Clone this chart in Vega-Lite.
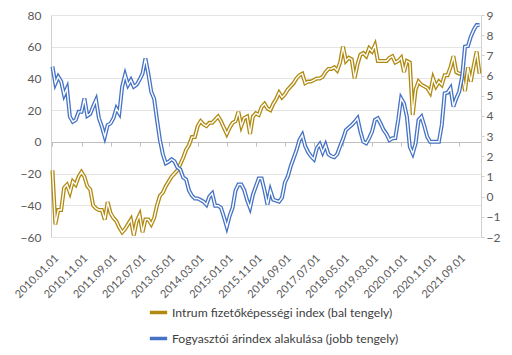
{
  "$schema": "https://vega.github.io/schema/vega-lite/v6.json",
  "width": 430,
  "height": 222,
  "autosize": {"type": "none"},
  "padding": {"left": 51, "top": 15, "right": 31, "bottom": 118},
  "background": "white",
  "config": {
    "view": {"stroke": null},
    "font": "Lato",
    "axis": {"labelFont": "Lato", "labelColor": "#595959", "labelFontSize": 12, "domainColor": "#d0d0d0", "tickColor": "#d0d0d0", "gridColor": "#e4e4e4", "title": null}
  },
  "data": {"values": [
    {"date":"2010.01.01","intrum":-18,"cpi":6.44},{"date":"2010.02.01","intrum":-52,"cpi":5.6},{"date":"2010.03.01","intrum":-43,"cpi":5.94},{"date":"2010.04.01","intrum":-43,"cpi":5.7},{"date":"2010.05.01","intrum":-29,"cpi":5.04},{"date":"2010.06.01","intrum":-27,"cpi":5.37},{"date":"2010.07.01","intrum":-32,"cpi":3.96},{"date":"2010.08.01","intrum":-25,"cpi":3.71},{"date":"2010.09.01","intrum":-27,"cpi":3.8},{"date":"2010.10.01","intrum":-22,"cpi":4.2},{"date":"2010.11.01","intrum":-19,"cpi":4.2},{"date":"2010.12.01","intrum":-22,"cpi":4.87},
    {"date":"2011.01.01","intrum":-28,"cpi":4.0},{"date":"2011.02.01","intrum":-30,"cpi":4.1},{"date":"2011.03.01","intrum":-40,"cpi":4.46},{"date":"2011.04.01","intrum":-42,"cpi":4.79},{"date":"2011.05.01","intrum":-43,"cpi":3.88},{"date":"2011.06.01","intrum":-43,"cpi":3.47},{"date":"2011.07.01","intrum":-49,"cpi":2.97},{"date":"2011.08.01","intrum":-38,"cpi":3.55},{"date":"2011.09.01","intrum":-45,"cpi":3.63},{"date":"2011.10.01","intrum":-48,"cpi":3.88},{"date":"2011.11.01","intrum":-50,"cpi":4.37},{"date":"2011.12.01","intrum":-54,"cpi":4.13},
    {"date":"2012.01.01","intrum":-57,"cpi":5.45},{"date":"2012.02.01","intrum":-55,"cpi":6.03},{"date":"2012.03.01","intrum":-52,"cpi":5.53},{"date":"2012.04.01","intrum":-49,"cpi":5.78},{"date":"2012.05.01","intrum":-59,"cpi":5.45},{"date":"2012.06.01","intrum":-50,"cpi":5.55},{"date":"2012.07.01","intrum":-46,"cpi":5.8},{"date":"2012.08.01","intrum":-57,"cpi":6.1},{"date":"2012.09.01","intrum":-49,"cpi":6.85},{"date":"2012.10.01","intrum":-49,"cpi":6.1},{"date":"2012.11.01","intrum":-52,"cpi":5.2},{"date":"2012.12.01","intrum":-48,"cpi":4.85},
    {"date":"2013.01.01","intrum":-40,"cpi":3.8},{"date":"2013.02.01","intrum":-34,"cpi":2.8},{"date":"2013.03.01","intrum":-32,"cpi":2.1},{"date":"2013.04.01","intrum":-28,"cpi":1.65},{"date":"2013.05.01","intrum":-25,"cpi":1.73},{"date":"2013.06.01","intrum":-22,"cpi":1.85},{"date":"2013.07.01","intrum":-20,"cpi":1.75},{"date":"2013.08.01","intrum":-18,"cpi":1.45},{"date":"2013.09.01","intrum":-14,"cpi":1.35},{"date":"2013.10.01","intrum":-10,"cpi":0.95},{"date":"2013.11.01","intrum":-5,"cpi":0.85},{"date":"2013.12.01","intrum":-2,"cpi":0.3},
    {"date":"2014.01.01","intrum":3,"cpi":0.05},{"date":"2014.02.01","intrum":3,"cpi":-0.09},{"date":"2014.03.01","intrum":10,"cpi":-0.09},{"date":"2014.04.01","intrum":13,"cpi":-0.17},{"date":"2014.05.01","intrum":11,"cpi":-0.25},{"date":"2014.06.01","intrum":10,"cpi":-0.4},{"date":"2014.07.01","intrum":12,"cpi":0.0},{"date":"2014.08.01","intrum":12,"cpi":0.16},{"date":"2014.09.01","intrum":14,"cpi":-0.45},{"date":"2014.10.01","intrum":16,"cpi":-0.45},{"date":"2014.11.01","intrum":13,"cpi":-0.55},{"date":"2014.12.01","intrum":9,"cpi":-1.0},
    {"date":"2015.01.01","intrum":5,"cpi":-1.5},{"date":"2015.02.01","intrum":9,"cpi":-0.95},{"date":"2015.03.01","intrum":12,"cpi":-0.55},{"date":"2015.04.01","intrum":13,"cpi":0.3},{"date":"2015.05.01","intrum":19,"cpi":0.6},{"date":"2015.06.01","intrum":10,"cpi":0.6},{"date":"2015.07.01","intrum":15,"cpi":0.33},{"date":"2015.08.01","intrum":16,"cpi":-0.17},{"date":"2015.09.01","intrum":5,"cpi":-0.55},{"date":"2015.10.01","intrum":16,"cpi":0.1},{"date":"2015.11.01","intrum":18,"cpi":0.5},{"date":"2015.12.01","intrum":17,"cpi":0.9},
    {"date":"2016.01.01","intrum":22,"cpi":0.9},{"date":"2016.02.01","intrum":24,"cpi":0.3},{"date":"2016.03.01","intrum":21,"cpi":-0.4},{"date":"2016.04.01","intrum":20,"cpi":0.3},{"date":"2016.05.01","intrum":24,"cpi":-0.15},{"date":"2016.06.01","intrum":27,"cpi":-0.2},{"date":"2016.07.01","intrum":31,"cpi":-0.25},{"date":"2016.08.01","intrum":28,"cpi":-0.05},{"date":"2016.09.01","intrum":30,"cpi":0.7},{"date":"2016.10.01","intrum":33,"cpi":1.0},{"date":"2016.11.01","intrum":35,"cpi":1.5},{"date":"2016.12.01","intrum":37,"cpi":1.9},
    {"date":"2017.01.01","intrum":40,"cpi":2.3},{"date":"2017.02.01","intrum":42,"cpi":2.8},{"date":"2017.03.01","intrum":43,"cpi":3.05},{"date":"2017.04.01","intrum":37,"cpi":2.5},{"date":"2017.05.01","intrum":38,"cpi":2.2},{"date":"2017.06.01","intrum":38,"cpi":2.0},{"date":"2017.07.01","intrum":39,"cpi":1.85},{"date":"2017.08.01","intrum":40,"cpi":2.4},{"date":"2017.09.01","intrum":40,"cpi":2.6},{"date":"2017.10.01","intrum":41,"cpi":2.2},{"date":"2017.11.01","intrum":44,"cpi":2.56},{"date":"2017.12.01","intrum":46,"cpi":2.1},
    {"date":"2018.01.01","intrum":46,"cpi":2.0},{"date":"2018.02.01","intrum":47,"cpi":1.95},{"date":"2018.03.01","intrum":45,"cpi":2.1},{"date":"2018.04.01","intrum":50,"cpi":2.5},{"date":"2018.05.01","intrum":60,"cpi":2.85},{"date":"2018.06.01","intrum":51,"cpi":3.3},{"date":"2018.07.01","intrum":53,"cpi":3.43},{"date":"2018.08.01","intrum":52,"cpi":3.55},{"date":"2018.09.01","intrum":40,"cpi":3.7},{"date":"2018.10.01","intrum":49,"cpi":3.88},{"date":"2018.11.01","intrum":55,"cpi":3.22},{"date":"2018.12.01","intrum":56,"cpi":2.72},
    {"date":"2019.01.01","intrum":54,"cpi":2.64},{"date":"2019.02.01","intrum":59,"cpi":2.9},{"date":"2019.03.01","intrum":57,"cpi":3.22},{"date":"2019.04.01","intrum":61,"cpi":3.8},{"date":"2019.05.01","intrum":51,"cpi":3.88},{"date":"2019.06.01","intrum":51,"cpi":3.6},{"date":"2019.07.01","intrum":51,"cpi":3.3},{"date":"2019.08.01","intrum":51,"cpi":3.1},{"date":"2019.09.01","intrum":53,"cpi":2.8},{"date":"2019.10.01","intrum":54,"cpi":2.89},{"date":"2019.11.01","intrum":50,"cpi":2.9},{"date":"2019.12.01","intrum":51,"cpi":3.8},
    {"date":"2020.01.01","intrum":53,"cpi":4.87},{"date":"2020.02.01","intrum":44,"cpi":4.62},{"date":"2020.03.01","intrum":51,"cpi":3.96},{"date":"2020.04.01","intrum":50,"cpi":2.47},{"date":"2020.05.01","intrum":17,"cpi":2.14},{"date":"2020.06.01","intrum":33,"cpi":2.64},{"date":"2020.07.01","intrum":38,"cpi":3.8},{"date":"2020.08.01","intrum":36,"cpi":3.96},{"date":"2020.09.01","intrum":35,"cpi":3.5},{"date":"2020.10.01","intrum":34,"cpi":2.97},{"date":"2020.11.01","intrum":31,"cpi":2.72},{"date":"2020.12.01","intrum":40,"cpi":2.72},
    {"date":"2021.01.01","intrum":35,"cpi":2.72},{"date":"2021.02.01","intrum":38,"cpi":2.72},{"date":"2021.03.01","intrum":36,"cpi":3.55},{"date":"2021.04.01","intrum":42,"cpi":5.12},{"date":"2021.05.01","intrum":42,"cpi":5.15},{"date":"2021.06.01","intrum":47,"cpi":5.37},{"date":"2021.07.01","intrum":54,"cpi":4.46},{"date":"2021.08.01","intrum":44,"cpi":4.87},{"date":"2021.09.01","intrum":43,"cpi":5.2},{"date":"2021.10.01","intrum":43,"cpi":5.94},{"date":"2021.11.01","intrum":32,"cpi":7.43},{"date":"2021.12.01","intrum":47,"cpi":7.46},
    {"date":"2022.01.01","intrum":38,"cpi":7.93},{"date":"2022.02.01","intrum":48,"cpi":8.26},{"date":"2022.03.01","intrum":57,"cpi":8.5},{"date":"2022.04.01","intrum":43,"cpi":8.5}
  ]},
  "encoding": {
    "x": {
      "field": "date", "type": "ordinal", "sort": null,
      "scale": {"type": "point", "padding": 0.5},
      "axis": {
        "values": ["2010.01.01","2010.11.01","2011.09.01","2012.07.01","2013.05.01","2014.03.01","2015.01.01","2015.11.01","2016.09.01","2017.07.01","2018.05.01","2019.03.01","2020.01.01","2020.11.01","2021.09.01"],
        "labelAngle": -45, "labelOverlap": false, "labelFontSize": 11,
        "offset": -95, "tickSize": 4, "labelPadding": 106, "domainColor": "#bfbfbf", "tickColor": "#bfbfbf", "grid": false
      }
    }
  },
  "layer": [
    {
      "encoding": {
        "y": {"field": "intrum", "type": "quantitative",
          "scale": {"domain": [-60, 80], "nice": false},
          "axis": {"orient": "left", "values": [-60, -40, -20, 0, 20, 40, 60, 80], "ticks": false, "labelPadding": 10, "grid": true}}
      },
      "layer": [
        {"mark": {"type": "line", "strokeWidth": 4}, "encoding": {"color": {"datum": "Intrum fizetőképességi index (bal tengely)", "type": "nominal",
          "scale": {"domain": ["Intrum fizetőképességi index (bal tengely)", "Fogyasztói árindex alakulása (jobb tengely)"], "range": ["#B08A10", "#4472C4"]},
          "legend": {"orient": "none", "legendX": 97, "legendY": 287, "direction": "vertical", "title": null, "symbolType": "stroke", "symbolSize": 300, "symbolStrokeWidth": 3.5, "labelFontSize": 12.2, "labelColor": "#404040", "labelFont": "Lato", "labelLimit": 400, "rowPadding": 8, "labelOffset": 3}}}},
        {"mark": {"type": "line", "strokeWidth": 1.4, "color": "white"}, "encoding": {}}
      ]
    },
    {
      "encoding": {
        "y": {"field": "cpi", "type": "quantitative",
          "scale": {"domain": [-2, 9], "nice": false},
          "axis": {"orient": "right", "values": [-2, -1, 0, 1, 2, 3, 4, 5, 6, 7, 8, 9], "tickSize": 3, "labelPadding": 2, "grid": false}}
      },
      "layer": [
        {"mark": {"type": "line", "strokeWidth": 4}, "encoding": {"color": {"datum": "Fogyasztói árindex alakulása (jobb tengely)", "type": "nominal"}}},
        {"mark": {"type": "line", "strokeWidth": 1.4, "color": "white"}, "encoding": {}}
      ]
    }
  ],
  "resolve": {"scale": {"y": "independent"}}
}
